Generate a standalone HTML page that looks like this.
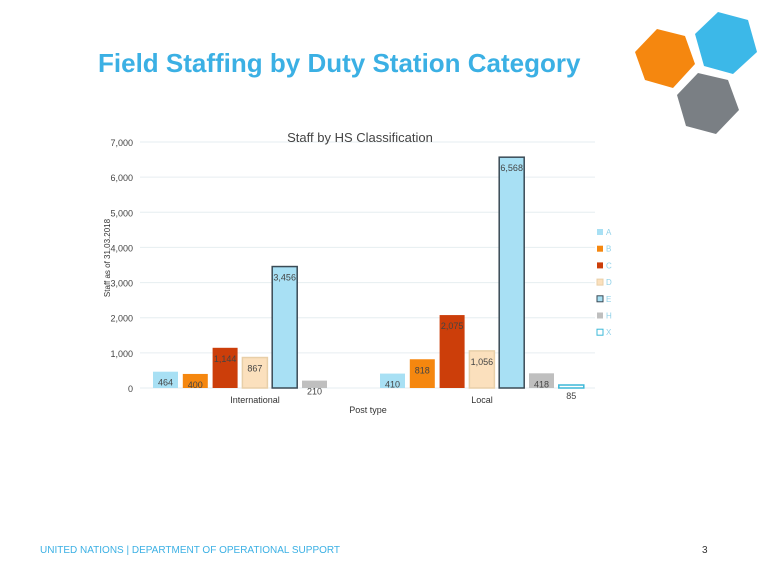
<!DOCTYPE html>
<html><head><meta charset="utf-8"><style>
body{margin:0;width:768px;height:576px;background:#fff;overflow:hidden;font-family:"Liberation Sans",sans-serif;position:relative}
.t{position:absolute}
</style></head><body>
<div class="t" style="left:98px;top:48px;font-size:26px;font-weight:bold;color:#3bb0e4">Field Staffing by Duty Station Category</div>
<svg class="t" style="left:600px;top:0" width="168" height="150">
<polygon points="35,52 57,29 85,36 95,64 73,88 45,80" fill="#f5870f"/>
<polygon points="95,34 118,12 148,20 157,52 133,74 104,66" fill="#3cb8e8"/>
<polygon points="77,95 98,73 128,80 139,110 116,134 86,126" fill="#7a7f84"/>
</svg>
<svg id="chart" class="t" style="left:0;top:0" width="640" height="420"></svg>
<div class="t" style="left:40px;top:545px;font-size:10px;color:#3bb0e4">UNITED NATIONS | DEPARTMENT OF OPERATIONAL SUPPORT</div>
<div class="t" style="left:702px;top:545px;font-size:10px;color:#333">3</div>
<script>
const categories=["International","Local"];
const series=["A","B","C","D","E","H","X"];
const international=[464,400,1144,867,3456,210,null];
const local=[410,818,2075,1056,6568,418,85];
const labelsI=["464","400","1,144","867","3,456","210",""];
const labelsL=["410","818","2,075","1,056","6,568","418","85"];
const yTicks=[0,1000,2000,3000,4000,5000,6000,7000];
const yTickLabels=["0","1,000","2,000","3,000","4,000","5,000","6,000","7,000"];
const fills=["#a8e0f4","#f5870f","#cc3e0a","#fbe0bd","#a8e0f4","#bfbfbf","#ffffff"];
const strokes=["none","none","none","#e8cfa8","#3a4a55","none","#3cb8d8"];
const svg=document.getElementById('chart');
const NS="http://www.w3.org/2000/svg";
function y(v){return 388-v*246/7000;}
function gx(g){return 153+g*227;}
function mk(t,a){const e=document.createElementNS(NS,t);for(const k in a)e.setAttribute(k,a[k]);svg.appendChild(e);return e;}
yTicks.forEach((v,i)=>{
 const l=mk('line',{x1:140,x2:595,y1:y(v),y2:y(v),stroke:'#e6eef0','stroke-width':1});
 
 
 const t=mk('text',{x:133,y:y(v)+4,'text-anchor':'end','font-size':9,fill:'#444'});t.textContent=yTickLabels[i];
 
 
});
[international,local].forEach((arr,g)=>{
 const labs=g?labelsL:labelsI;
 arr.forEach((v,i)=>{
  if(v==null)return;
  const x=gx(g)+i*29.8;
  const r=mk('rect',{x:x,y:y(v),width:25,height:388-y(v),fill:fills[i],stroke:strokes[i],'stroke-width':strokes[i]=='none'?0:1.5});
  
  
  const t=mk('text',{x:x+12.5,y:y(v)+14,'text-anchor':'middle','font-size':9,fill:'#444'});t.textContent=labs[i];
  
  
 });
 const c=mk('text',{x:gx(g)+102,y:403,'text-anchor':'middle','font-size':9,fill:'#333'});c.textContent=categories[g];
 
 
});
series.forEach((s,i)=>{
 const yy=232+i*16.7;
 const r=mk('rect',{x:597,y:yy-3,width:6,height:6,fill:fills[i],stroke:strokes[i],'stroke-width':strokes[i]=='none'?0:1});
 
 
 const t=mk('text',{x:606,y:yy+3,'font-size':8,fill:'#8fd0e8'});t.textContent=s;
 
 
});
let t=mk('text',{x:360,y:142,'text-anchor':'middle','font-size':13,fill:'#444'});t.textContent='Staff by HS Classification';


t=mk('text',{x:368,y:413,'text-anchor':'middle','font-size':9,fill:'#333'});t.textContent='Post type';


t=mk('text',{x:0,y:0,'text-anchor':'middle','font-size':8,fill:'#333',transform:'translate(110,258) rotate(-90)'});t.textContent='Staff as of 31.03.2018';


</script>
</body></html>
